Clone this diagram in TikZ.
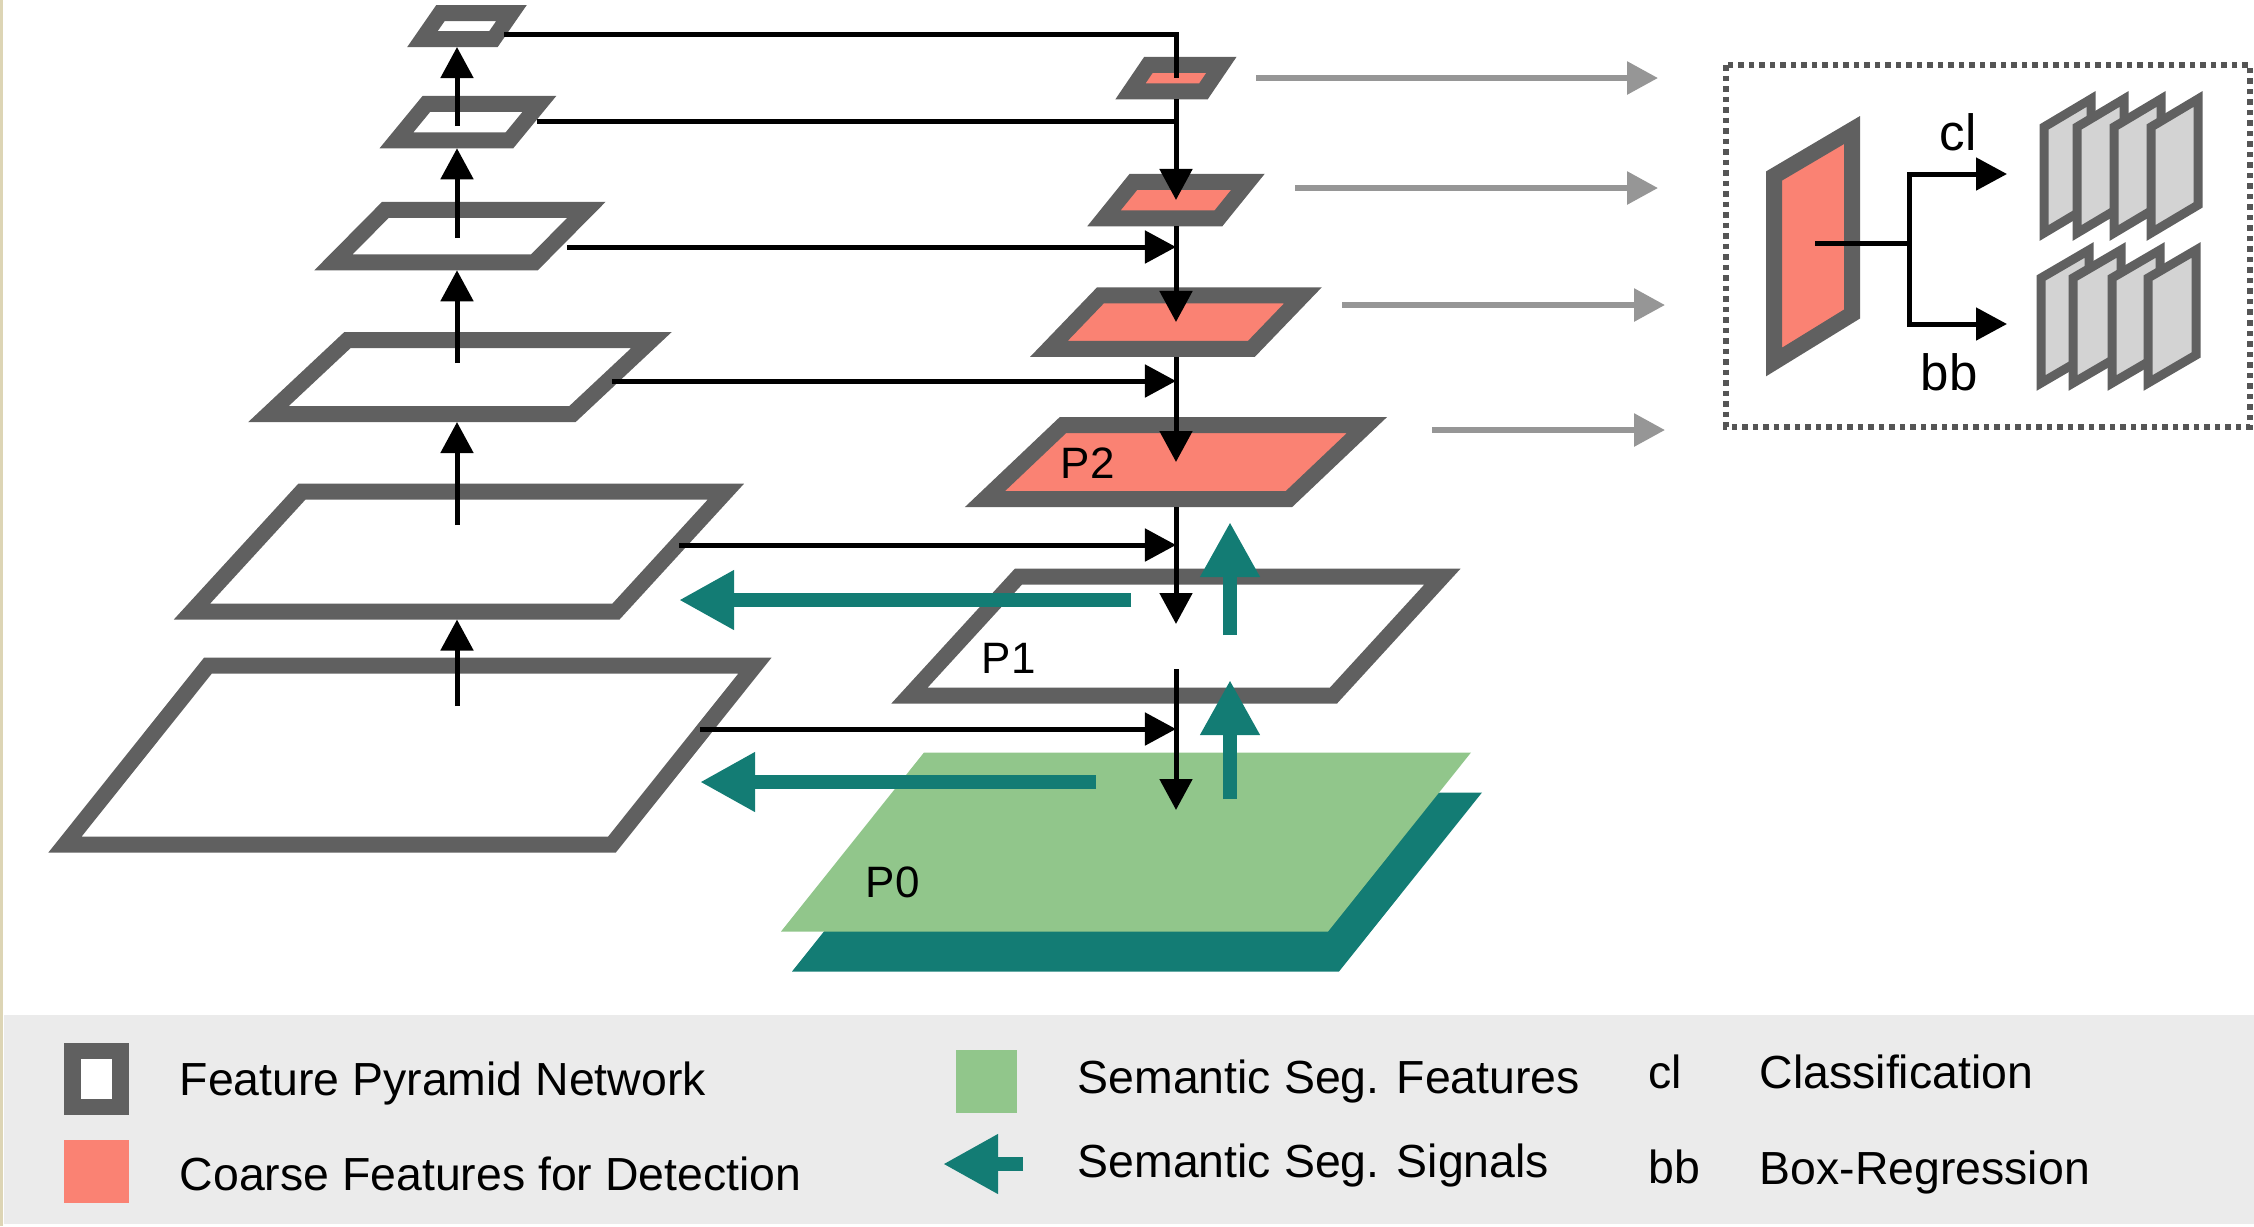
\documentclass[tikz,border=0pt]{standalone}
\usepackage{fontspec}
\setmainfont{Liberation Sans}
\usetikzlibrary{arrows.meta,calc}

\definecolor{fpngray}{HTML}{606060}
\definecolor{coarse}{HTML}{FA8273}
\definecolor{segfeat}{HTML}{91C68B}
\definecolor{segsig}{HTML}{137C74}
\definecolor{headgray}{HTML}{D3D3D3}
\definecolor{outgray}{HTML}{969696}
\definecolor{boxgray}{HTML}{555555}
\definecolor{legendbg}{HTML}{EBEBEB}
\definecolor{edgetan}{HTML}{DDD5B5}

\begin{document}
\begin{tikzpicture}[
		x=0.01cm, y=-0.01cm,
		fmap/.style={draw=fpngray, line width=0.16cm, line join=miter, fill=white},
		flowarrow/.style={line width=0.05cm, -{Triangle[length=0.31cm, width=0.32cm]}},
		joinline/.style={line width=0.05cm, line join=miter},
		segarrow/.style={draw=segsig, line width=0.135cm, -{Triangle[length=0.55cm, width=0.56cm]}},
		outarrow/.style={draw=outgray, line width=0.06cm, -{Triangle[length=0.31cm, width=0.32cm]}},
		dotbox/.style={draw=boxgray, line width=0.055cm, dash pattern=on 0.055cm off 0.05cm},
		headcard/.style={draw=fpngray, line width=0.09cm, line join=miter, fill=headgray},
		plbl/.style={inner sep=0pt, anchor=base west, font=\fontsize{12.5}{15}\selectfont},
		boxtext/.style={inner sep=0pt, anchor=base west, font=\fontsize{14.5}{17}\selectfont},
		legtext/.style={inner sep=0pt, anchor=base west, font=\fontsize{13.2}{16}\selectfont}
	]
	\useasboundingbox (0,0) rectangle (2254,1226);
	\fill[legendbg] (4,1015) rectangle (2254,1224);
	\draw[edgetan, line width=0.03cm] (1.5,0) -- (1.5,1226);

	\foreach \dx/\dy/\f in {11/40/segsig, 0/0/segfeat}
		\fill[\f] (\dx+781,\dy+931.5) -- ++(547,0) -- ++(143,-179) -- ++(-547,0) -- cycle;
	\coordinate (P0) at (1176,842);

	\foreach \n/\cx/\cy/\a/\h/\s/\ty/\hx/\hy in {
			L1/467/26/71/26/18/26/504/34,
			L2/468/122/113/36.5/30/126/537/121,
			L3/460/236/201/52.5/52/238/567/247,
			L4/460/377/304/74/79/363/612/381,
			L5/459/551.5/424/120/110/525/679/545,
			L6/410/755/547/179/143/706/700/729}
	{
		\draw[fmap] (\cx-\a/2-\s/2,\cy+\h/2) -- ++(\a,0) -- ++(\s,-\h) -- ++(-\a,0) -- cycle;
		\coordinate (\n-a) at (457,\ty);
		\coordinate (\n-b) at (457,\cy+\h/2+8);
		\coordinate (\n-h) at (\hx,\hy);
	}

	\foreach \n/\cy/\a/\h/\s/\f in {
			R1/78/73/26.5/18/coarse,
			R2/200/114.5/36.5/29.5/coarse,
			R3/322/202.5/53.5/51.5/coarse,
			R4/462/304/74/78/coarse,
			P1/636/424/119/109/white}
	{
		\draw[fmap, fill=\f] (1176-\a/2-\s/2,\cy+\h/2) -- ++(\a,0) -- ++(\s,-\h) -- ++(-\a,0) -- cycle;
		\coordinate (\n) at (1176,\cy);
		\coordinate (\n-b) at (1176,\cy+\h/2+8);
	}

	\node[plbl] (p2-text) at (1060,478) {P2};
	\node[plbl] (p1-text) at (981,673) {P1};
	\node[plbl] (p0-text) at (865,897) {P0};

	\foreach \lo/\hi in {L6/L5,L5/L4,L4/L3,L3/L2,L2/L1}
		\draw[flowarrow] (\lo-a) -- (\hi-b);
	\draw[joinline] (L1-h) -| (R1);
	\draw[joinline] (L2-h) -- (L2-h -| R1);
	\foreach \n in {L3,L4,L5,L6}
		\draw[flowarrow] (\n-h) -- (\n-h -| R1);
	\foreach \up/\dn in {R1/R2,R2/R3,R3/R4}
		\draw[flowarrow] (\up-b) -- (\dn);
	\draw[flowarrow] (R4-b) -- ($(P1)+(0,-12)$);
	\draw[flowarrow] ($(P1)+(0,33)$) -- ($(P0)+(0,-32)$);

	\coordinate (sig1) at (1131,600);
	\coordinate (sig2) at (1096,782);
	\coordinate (sig3) at (1230,635);
	\coordinate (sig3-end) at (1230,522);
	\coordinate (sig4) at (1230,799);
	\coordinate (sig4-end) at (1230,680);
	\draw[segarrow] (sig1) -- (sig1 -| L5-h);
	\draw[segarrow] (sig2) -- (sig2 -| L6-h);
	\draw[segarrow] (sig3) -- (sig3-end);
	\draw[segarrow] (sig4) -- (sig4-end);

	\foreach \n/\x/\y/\e in {o1/1256/78/1658, o2/1295/188/1658, o3/1342/305/1665, o4/1432/430/1665}
	{
		\coordinate (\n) at (\x,\y);
		\coordinate (\n-end) at (\e,\y);
		\draw[outarrow] (\n) -- (\n-end);
	}

	\coordinate (box-nw) at (1726,65);
	\coordinate (box-se) at (2250,427);
	\draw[dotbox] (box-nw) rectangle (box-se);

	\draw[fmap, fill=coarse] (1774,362) -- (1774,176) -- (1852,130) -- (1852,314) -- cycle;
	\coordinate (panel) at (1815,243);
	\coordinate (hub) at (1909,243);
	\coordinate (cl-end) at (2007,174);
	\coordinate (bb-end) at (2007,324);
	\draw[joinline] (panel) -- (hub);
	\draw[flowarrow, line join=miter] (hub) |- (cl-end);
	\draw[flowarrow, line join=miter] (hub) |- (bb-end);
	\foreach \x in {2044,2077,2114,2151}
		\draw[headcard] (\x,233) -- (\x,127) -- (\x+47,99) -- (\x+47,205) -- cycle;
	\foreach \x in {2041,2073,2112,2148}
		\draw[headcard] (\x,383) -- (\x,278) -- (\x+48,250) -- (\x+48,355) -- cycle;
	\node[boxtext] (cl-text) at (1939,150) {cl};
	\node[boxtext] (bb-text) at (1920,390) {bb};

	\draw[fpngray, line width=0.165cm, fill=white] (72.5,1051) rectangle (120.5,1107);
	\fill[coarse] (64,1140) rectangle (129,1203);
	\fill[segfeat] (956,1050) rectangle (1017,1113);
	\coordinate (leg-sig) at (1023,1164);
	\coordinate (leg-sig-end) at (943,1164);
	\draw[segarrow] (leg-sig) -- (leg-sig-end);
	\node[legtext] (leg-fpn) at (179,1095) {Feature Pyramid Network};
	\node[legtext] (leg-coarse) at (179,1190) {Coarse Features for Detection};
	\node[legtext] (leg-feat) at (1077,1093) {Semantic Seg. Features};
	\node[legtext] (leg-sigtext) at (1077,1177) {Semantic Seg. Signals};
	\node[legtext] (leg-cl) at (1648,1088) {cl};
	\node[legtext] (leg-bb) at (1648,1183) {bb};
	\node[legtext] (leg-cls) at (1759,1088) {Classification};
	\node[legtext] (leg-box) at (1759,1184) {Box-Regression};
\end{tikzpicture}
\end{document}
